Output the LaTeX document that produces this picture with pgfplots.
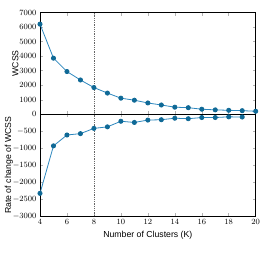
\documentclass[border=0pt]{standalone}
\usepackage{pgfplots}
\pgfplotsset{compat=1.18}
\usepackage{fontspec}
\newfontfamily\labfont{Liberation Sans}
\definecolor{lc}{RGB}{45,135,190}
\definecolor{mc}{RGB}{15,105,150}
\pgfplotsset{
  panel/.style={
    scale only axis, width=215.7pt, height=101.8pt,
    xmin=4, xmax=20, xtick={4,6,...,20},
    tick align=inside, tick pos=both, major tick length=3pt,
    tick style={gray!60, line width=0.5pt},
    axis line style={line width=0.9pt},
    ticklabel style={font=\fontsize{8.3}{9}\selectfont},
    label style={font=\labfont\fontsize{8.7}{10}\selectfont},
    /pgf/number format/1000 sep={},
  },
  ser/.style={lc, line width=0.8pt, mark=*, mark size=2.1pt, mark options={fill=mc, draw=mc}},
  dline/.style={black!60, densely dotted, line width=0.8pt, forget plot},
}
\begin{document}
\begin{tikzpicture}
\useasboundingbox (0pt,0pt) rectangle (269pt,-255pt);
\begin{axis}[panel, at={(40pt,-114.3pt)}, anchor=south west,
  ymin=0, ymax=7000, ytick={0,1000,...,7000}, xticklabels={},
  ylabel={WCSS},
  ylabel style={at={(axis description cs:-0.114,0.5)}, anchor=center},
]
\addplot[dline] coordinates {(8,0) (8,7000)};
\addplot[ser] coordinates {
(4,6200) (5,3860) (6,2940) (7,2360) (8,1840) (9,1460) (10,1110) (11,970)
(12,780) (13,640) (14,490) (15,455) (16,350) (17,305) (18,275) (19,250) (20,210)};
\end{axis}
\begin{axis}[panel, at={(40pt,-114.3pt)}, anchor=north west,
  ymin=-3000, ymax=0, ytick={-3000,-2500,...,-500},
  ylabel={Rate of change of WCSS},
  ylabel style={at={(axis description cs:-0.144,0.5)}, anchor=center},
  xlabel={Number of Clusters (K)},
  xlabel style={at={(axis description cs:0.5,-0.187)}, anchor=center},
]
\addplot[dline] coordinates {(8,-3000) (8,0)};
\addplot[ser] coordinates {
(4,-2330) (5,-930) (6,-610) (7,-570) (8,-415) (9,-370) (10,-205) (11,-240)
(12,-170) (13,-160) (14,-115) (15,-130) (16,-95) (17,-95) (18,-75) (19,-80)};
\end{axis}
\end{tikzpicture}
\end{document}
